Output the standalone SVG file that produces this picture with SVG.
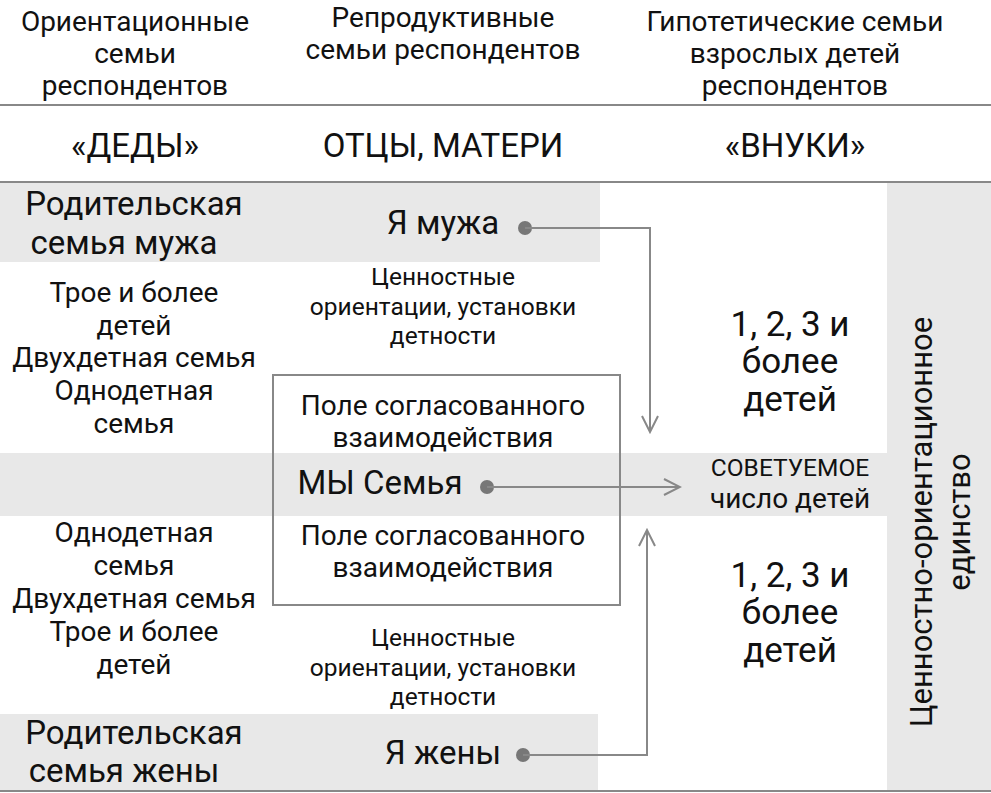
<svg xmlns="http://www.w3.org/2000/svg" width="991" height="793" viewBox="0 0 991 793">
<style>
text{font-family:Roboto,"Liberation Sans",sans-serif;fill:#111;text-anchor:middle}
.h{font-size:28px}.b{font-size:33px}.m{font-size:28px}.s{font-size:24.5px}.n{font-size:35px}.v{font-size:31px}
.g{fill:#e8e8e8}
.c{fill:none;stroke:#888;stroke-width:2}
</style>
<defs><marker id="a" markerWidth="20" markerHeight="20" refX="18" refY="10" orient="auto" markerUnits="userSpaceOnUse"><path d="M2,2 L18,10 L2,18" fill="none" stroke="#888" stroke-width="2"/></marker></defs>
<rect width="991" height="793" fill="#fff"/>
<g id="bands">
<rect class="g" x="0" y="183" width="600" height="79"/>
<rect class="g" x="0" y="714" width="598" height="76"/>
<rect class="g" x="0" y="453" width="887" height="63"/>
<rect class="g" x="887" y="183" width="104" height="607"/>
<line x1="0" y1="105" x2="991" y2="105" stroke="#888" stroke-width="2"/>
<line x1="0" y1="182" x2="991" y2="182" stroke="#888" stroke-width="2"/>
<line x1="0" y1="791" x2="991" y2="791" stroke="#888" stroke-width="2"/>
</g>
<g id="headers">
<text class="h" x="135" y="31">Ориентационные</text><text class="h" x="135" y="63">семьи</text><text class="h" x="135" y="95">респондентов</text>
<text class="h" x="443" y="27">Репродуктивные</text><text class="h" x="443" y="59">семьи респондентов</text>
<text class="h" x="795" y="31">Гипотетические семьи</text><text class="h" x="795" y="63">взрослых детей</text><text class="h" x="795" y="95">респондентов</text>
<text class="b" x="135" y="157">«ДЕДЫ»</text><text class="b" x="443" y="157">ОТЦЫ, МАТЕРИ</text><text class="b" x="795" y="157">«ВНУКИ»</text>
</g>
<g id="left">
<text class="b" x="134" y="215">Родительская</text><text class="b" x="124" y="254">семья мужа</text>
<text class="m" x="134" y="302">Трое и более</text><text class="m" x="134" y="335">детей</text><text class="m" x="134" y="367">Двухдетная семья</text><text class="m" x="134" y="400">Однодетная</text><text class="m" x="134" y="433">семья</text>
<text class="m" x="134" y="542">Однодетная</text><text class="m" x="134" y="575">семья</text><text class="m" x="134" y="608">Двухдетная семья</text><text class="m" x="134" y="641">Трое и более</text><text class="m" x="134" y="674">детей</text>
<text class="b" x="134" y="744">Родительская</text><text class="b" x="124" y="782">семья жены</text>
</g>
<g id="center">
<text class="b" x="443" y="234">Я мужа</text>
<text class="s" x="443" y="285">Ценностные</text><text class="s" x="443" y="315">ориентации, установки</text><text class="s" x="443" y="344">детности</text>
<rect x="273" y="375" width="347" height="230" fill="none" stroke="#888" stroke-width="2"/>
<text class="m" x="443" y="415">Поле согласованного</text><text class="m" x="443" y="447">взаимодействия</text>
<text class="b" x="380" y="494">МЫ Семья</text>
<text class="m" x="443" y="545">Поле согласованного</text><text class="m" x="443" y="577">взаимодействия</text>
<text class="s" x="443" y="646">Ценностные</text><text class="s" x="443" y="676">ориентации, установки</text><text class="s" x="443" y="705">детности</text>
<text class="b" x="443" y="764">Я жены</text>
</g>
<g id="right">
<text class="n" x="790" y="336">1, 2, 3 и</text><text class="n" x="790" y="373">более</text><text class="n" x="790" y="411">детей</text>
<text class="s" x="790" y="476">СОВЕТУЕМОЕ</text><text class="m" x="790" y="508">число детей</text>
<text class="n" x="790" y="587">1, 2, 3 и</text><text class="n" x="790" y="624">более</text><text class="n" x="790" y="662">детей</text>
<text class="v" transform="translate(932,522) rotate(-90)">Ценностно-ориентационное</text>
<text class="v" transform="translate(970,522) rotate(-90)">единство</text>
</g>
<g id="connectors">
<circle cx="525" cy="228" r="7" fill="#777"/>
<path class="c" d="M525,228 H650 V432" marker-end="url(#a)"/>
<circle cx="487" cy="487" r="7" fill="#777"/>
<path class="c" d="M487,487 H680" marker-end="url(#a)"/>
<circle cx="523" cy="755" r="7" fill="#777"/>
<path class="c" d="M523,755 H647 V530" marker-end="url(#a)"/>
</g>
</svg>
